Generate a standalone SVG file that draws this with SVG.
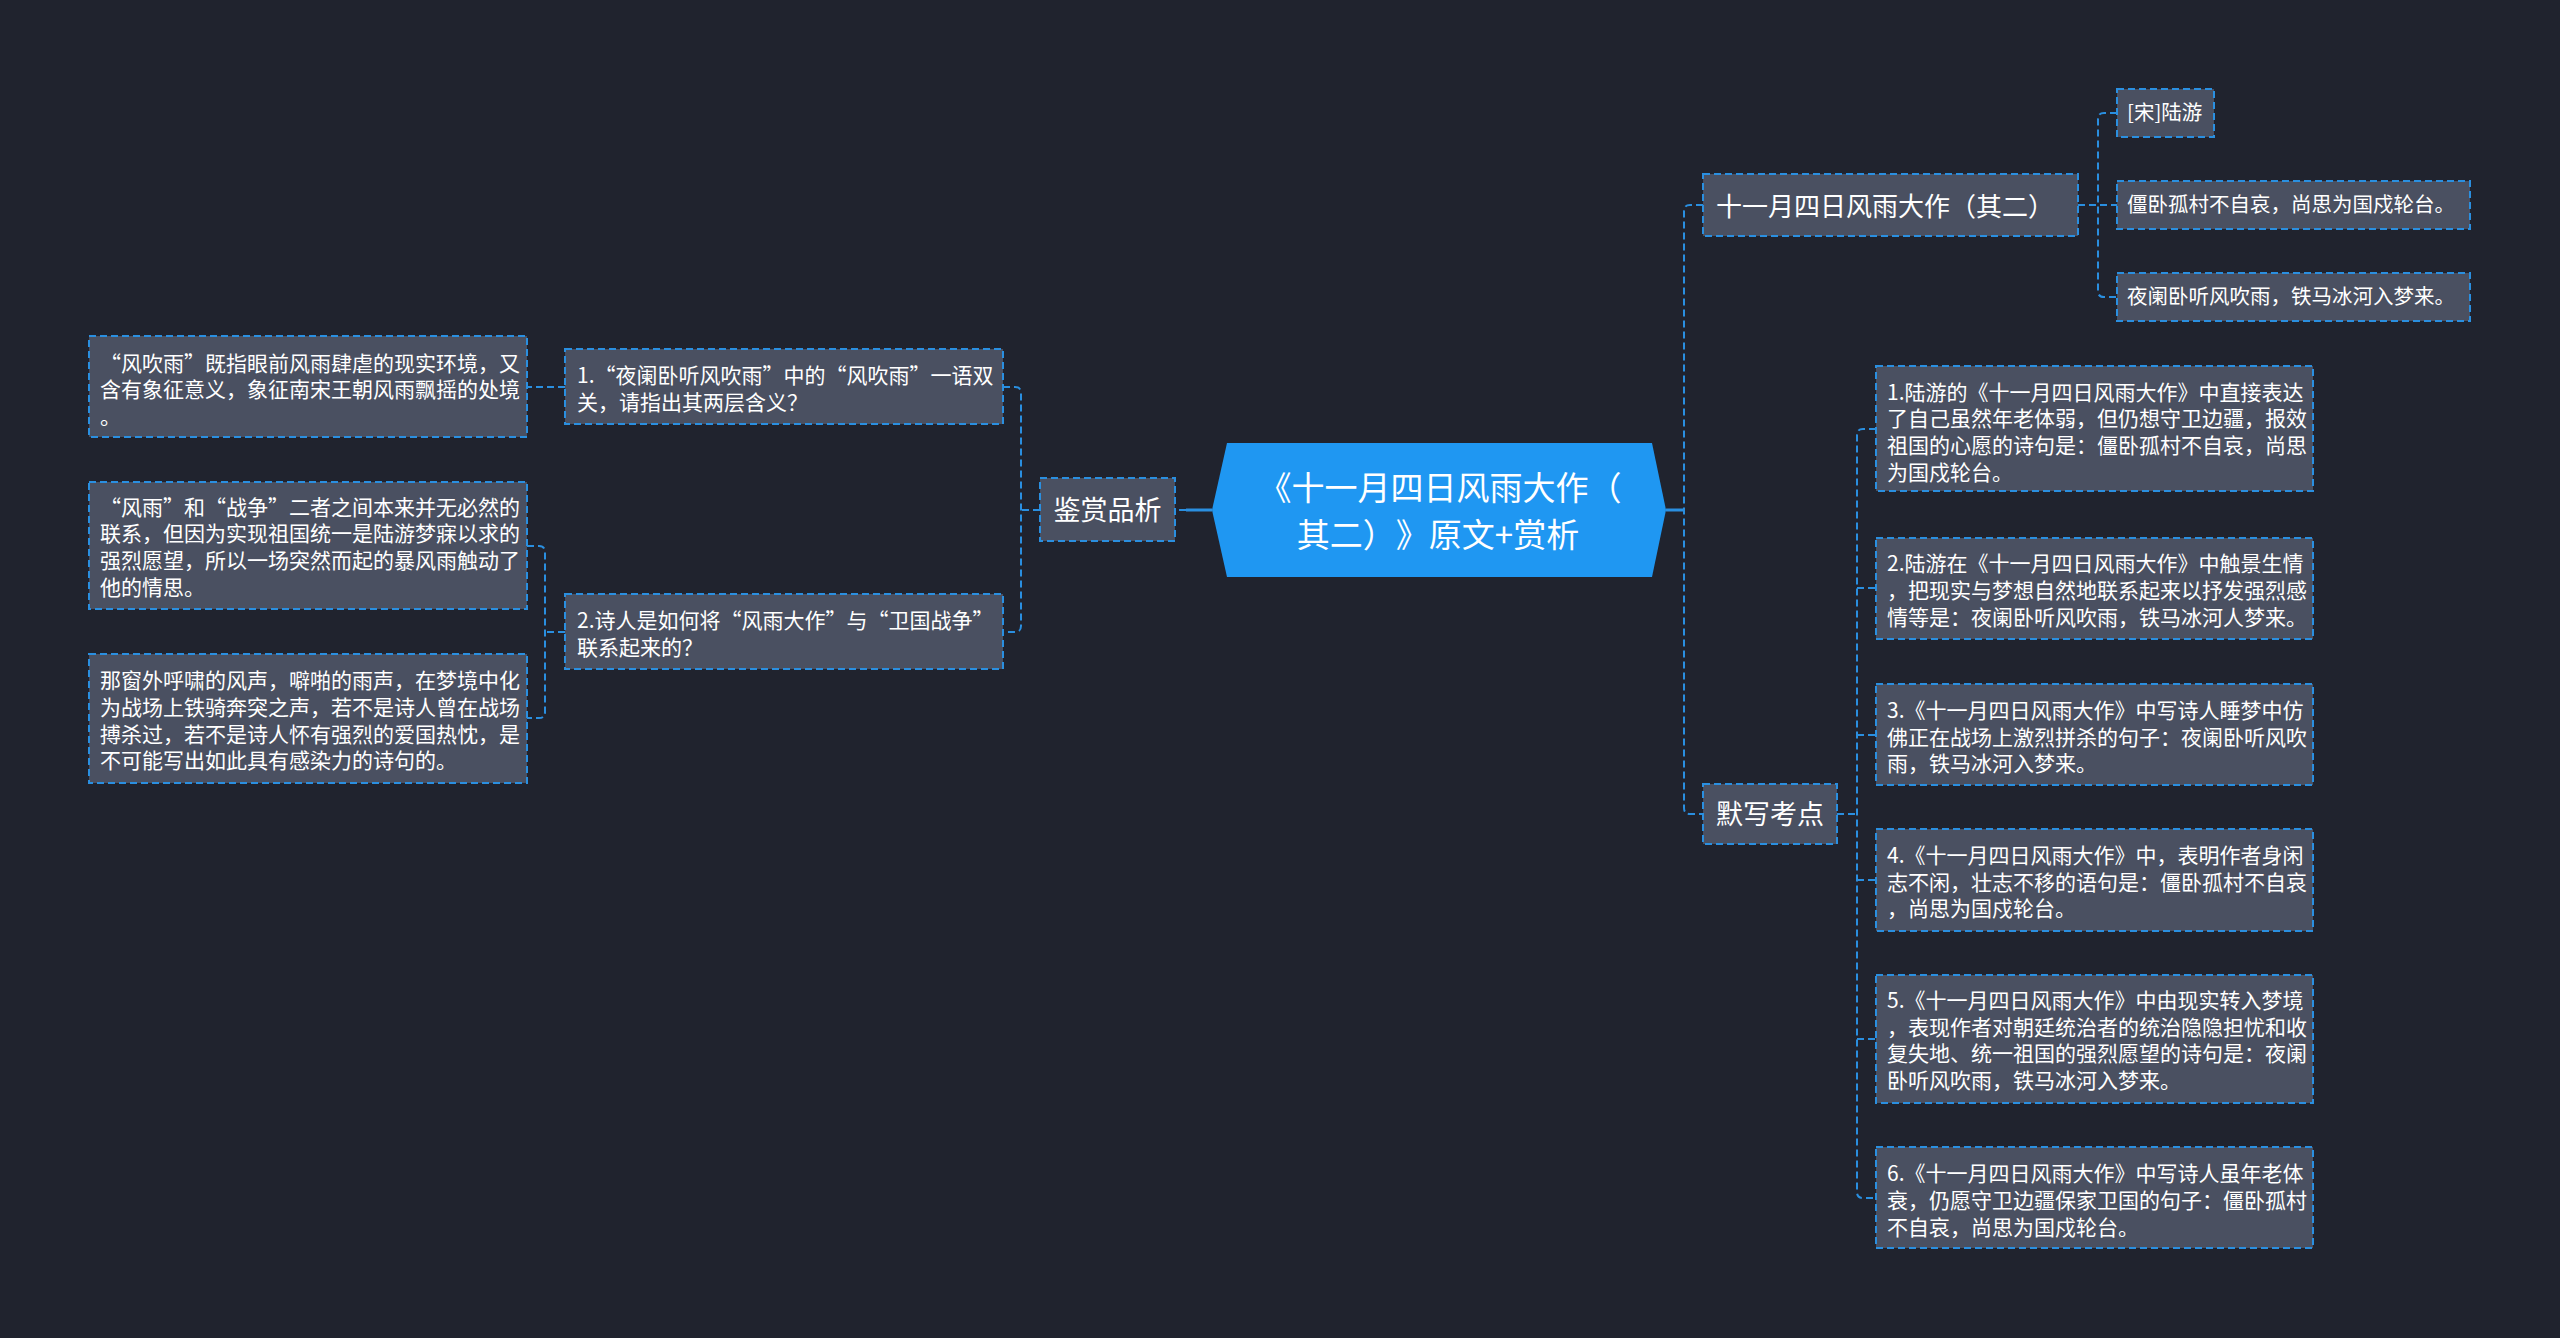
<svg xmlns="http://www.w3.org/2000/svg" width="2560" height="1338" viewBox="0 0 2560 1338">
<style>
.bg{fill:#20232e}
.box{fill:#4a5061;stroke:#2a8fe0;stroke-width:2;stroke-dasharray:7 4}
.con{fill:none;stroke:#2a8fe0;stroke-width:2;stroke-dasharray:7 4}
.solid{fill:none;stroke:#2a8fe0;stroke-width:3}
text{font-family:"Noto Sans CJK SC","Noto Sans",sans-serif;fill:#ffffff;text-spacing-trim:space-all}
.t21{font-size:21px}
.t20{font-size:20.5px}
.t26{font-size:26px}
.t27{font-size:27px}
.t32{font-size:33px}
</style>
<rect class="bg" x="0" y="0" width="2560" height="1338"/>

<g id="connectors">
  <path class="solid" d="M1212 510 H1186"/>
  <path class="con" d="M1186 510 H1175"/>
  <path class="con" d="M1040 510 H1021"/>
  <path class="con" d="M1003 387 H1015 Q1021 387 1021 393 V626 Q1021 632 1015 632 H1003"/>
  <path class="con" d="M565 387 H527"/>
  <path class="con" d="M565 632 H545"/>
  <path class="con" d="M527 546 H539 Q545 546 545 552 V712 Q545 718 539 718 H527"/>
  <path class="solid" d="M1666 510 H1684"/>
  <path class="con" d="M1703 205 H1690 Q1684 205 1684 211 V808 Q1684 814 1690 814 H1703"/>
  <path class="con" d="M2078 205 H2117"/>
  <path class="con" d="M2117 113 H2104 Q2098 113 2098 119 V291 Q2098 297 2104 297 H2117"/>
  <path class="con" d="M1837 814 H1857"/>
  <path class="con" d="M1876 429 H1863 Q1857 429 1857 435 V1192 Q1857 1198 1863 1198 H1876"/>
  <path class="con" d="M1857 588 H1876"/>
  <path class="con" d="M1857 735 H1876"/>
  <path class="con" d="M1857 880 H1876"/>
  <path class="con" d="M1857 1039 H1876"/>
</g>

<g id="root">
  <polygon points="1212,510 1227,443 1652,443 1666,510 1652,577 1227,577" fill="#1f97f2"/>
  <text class="t32" x="1440" y="500" text-anchor="middle">《十一月四日风雨大作（</text>
  <text class="t32" x="1438" y="547" text-anchor="middle">其二）》原文+赏析</text>
</g>

<g id="n-jianshang">
  <rect class="box" x="1040" y="478" width="135" height="63"/>
  <text class="t27" x="1107.5" y="520" text-anchor="middle">鉴赏品析</text>
</g>

<g id="n-q1">
  <rect class="box" x="565" y="349" width="438" height="75"/>
  <text class="t21" x="577" y="383">1.“夜阑卧听风吹雨”中的“风吹雨”一语双</text>
  <text class="t21" x="577" y="410">关，请指出其两层含义？</text>
</g>

<g id="n-q2">
  <rect class="box" x="565" y="594" width="438" height="75"/>
  <text class="t21" x="577" y="628">2.诗人是如何将“风雨大作”与“卫国战争”</text>
  <text class="t21" x="577" y="655">联系起来的？</text>
</g>

<g id="n-a1">
  <rect class="box" x="89" y="336" width="438" height="101"/>
  <text class="t21" x="100" y="371">“风吹雨”既指眼前风雨肆虐的现实环境，又</text>
  <text class="t21" x="100" y="397">含有象征意义，象征南宋王朝风雨飘摇的处境</text>
  <text class="t21" x="100" y="424">。</text>
</g>

<g id="n-a2">
  <rect class="box" x="89" y="482" width="438" height="127"/>
  <text class="t21" x="100" y="515">“风雨”和“战争”二者之间本来并无必然的</text>
  <text class="t21" x="100" y="541">联系，但因为实现祖国统一是陆游梦寐以求的</text>
  <text class="t21" x="100" y="568">强烈愿望，所以一场突然而起的暴风雨触动了</text>
  <text class="t21" x="100" y="595">他的情思。</text>
</g>

<g id="n-a3">
  <rect class="box" x="89" y="654" width="438" height="129"/>
  <text class="t21" x="100" y="688">那窗外呼啸的风声，噼啪的雨声，在梦境中化</text>
  <text class="t21" x="100" y="715">为战场上铁骑奔突之声，若不是诗人曾在战场</text>
  <text class="t21" x="100" y="742">搏杀过，若不是诗人怀有强烈的爱国热忱，是</text>
  <text class="t21" x="100" y="768">不可能写出如此具有感染力的诗句的。</text>
</g>

<g id="n-poem">
  <rect class="box" x="1703" y="174" width="375" height="62"/>
  <text class="t26" x="1716" y="216">十一月四日风雨大作（其二）</text>
</g>

<g id="n-author">
  <rect class="box" x="2117" y="89" width="97" height="48"/>
  <text class="t20" x="2127" y="120">[宋]陆游</text>
</g>

<g id="n-line1">
  <rect class="box" x="2117" y="181" width="353" height="48"/>
  <text class="t20" x="2127" y="212">僵卧孤村不自哀，尚思为国戍轮台。</text>
</g>

<g id="n-line2">
  <rect class="box" x="2117" y="273" width="353" height="48"/>
  <text class="t20" x="2127" y="304">夜阑卧听风吹雨，铁马冰河入梦来。</text>
</g>

<g id="n-moxie">
  <rect class="box" x="1703" y="784" width="134" height="60"/>
  <text class="t27" x="1770" y="824" text-anchor="middle">默写考点</text>
</g>

<g id="n-m1">
  <rect class="box" x="1876" y="366" width="437" height="125"/>
  <text class="t21" x="1887" y="400">1.陆游的《十一月四日风雨大作》中直接表达</text>
  <text class="t21" x="1887" y="426">了自己虽然年老体弱，但仍想守卫边疆，报效</text>
  <text class="t21" x="1887" y="453">祖国的心愿的诗句是：僵卧孤村不自哀，尚思</text>
  <text class="t21" x="1887" y="480">为国戍轮台。</text>
</g>

<g id="n-m2">
  <rect class="box" x="1876" y="538" width="437" height="101"/>
  <text class="t21" x="1887" y="571">2.陆游在《十一月四日风雨大作》中触景生情</text>
  <text class="t21" x="1887" y="598">，把现实与梦想自然地联系起来以抒发强烈感</text>
  <text class="t21" x="1887" y="625">情等是：夜阑卧听风吹雨，铁马冰河人梦来。</text>
</g>

<g id="n-m3">
  <rect class="box" x="1876" y="684" width="437" height="101"/>
  <text class="t21" x="1887" y="718">3.《十一月四日风雨大作》中写诗人睡梦中仿</text>
  <text class="t21" x="1887" y="745">佛正在战场上激烈拼杀的句子：夜阑卧听风吹</text>
  <text class="t21" x="1887" y="771">雨，铁马冰河入梦来。</text>
</g>

<g id="n-m4">
  <rect class="box" x="1876" y="829" width="437" height="102"/>
  <text class="t21" x="1887" y="863">4.《十一月四日风雨大作》中，表明作者身闲</text>
  <text class="t21" x="1887" y="890">志不闲，壮志不移的语句是：僵卧孤村不自哀</text>
  <text class="t21" x="1887" y="916">，尚思为国戍轮台。</text>
</g>

<g id="n-m5">
  <rect class="box" x="1876" y="975" width="437" height="128"/>
  <text class="t21" x="1887" y="1008">5.《十一月四日风雨大作》中由现实转入梦境</text>
  <text class="t21" x="1887" y="1035">，表现作者对朝廷统治者的统治隐隐担忧和收</text>
  <text class="t21" x="1887" y="1061">复失地、统一祖国的强烈愿望的诗句是：夜阑</text>
  <text class="t21" x="1887" y="1088">卧听风吹雨，铁马冰河入梦来。</text>
</g>

<g id="n-m6">
  <rect class="box" x="1876" y="1147" width="437" height="101"/>
  <text class="t21" x="1887" y="1181">6.《十一月四日风雨大作》中写诗人虽年老体</text>
  <text class="t21" x="1887" y="1208">衰，仍愿守卫边疆保家卫国的句子：僵卧孤村</text>
  <text class="t21" x="1887" y="1235">不自哀，尚思为国戍轮台。</text>
</g>
</svg>
